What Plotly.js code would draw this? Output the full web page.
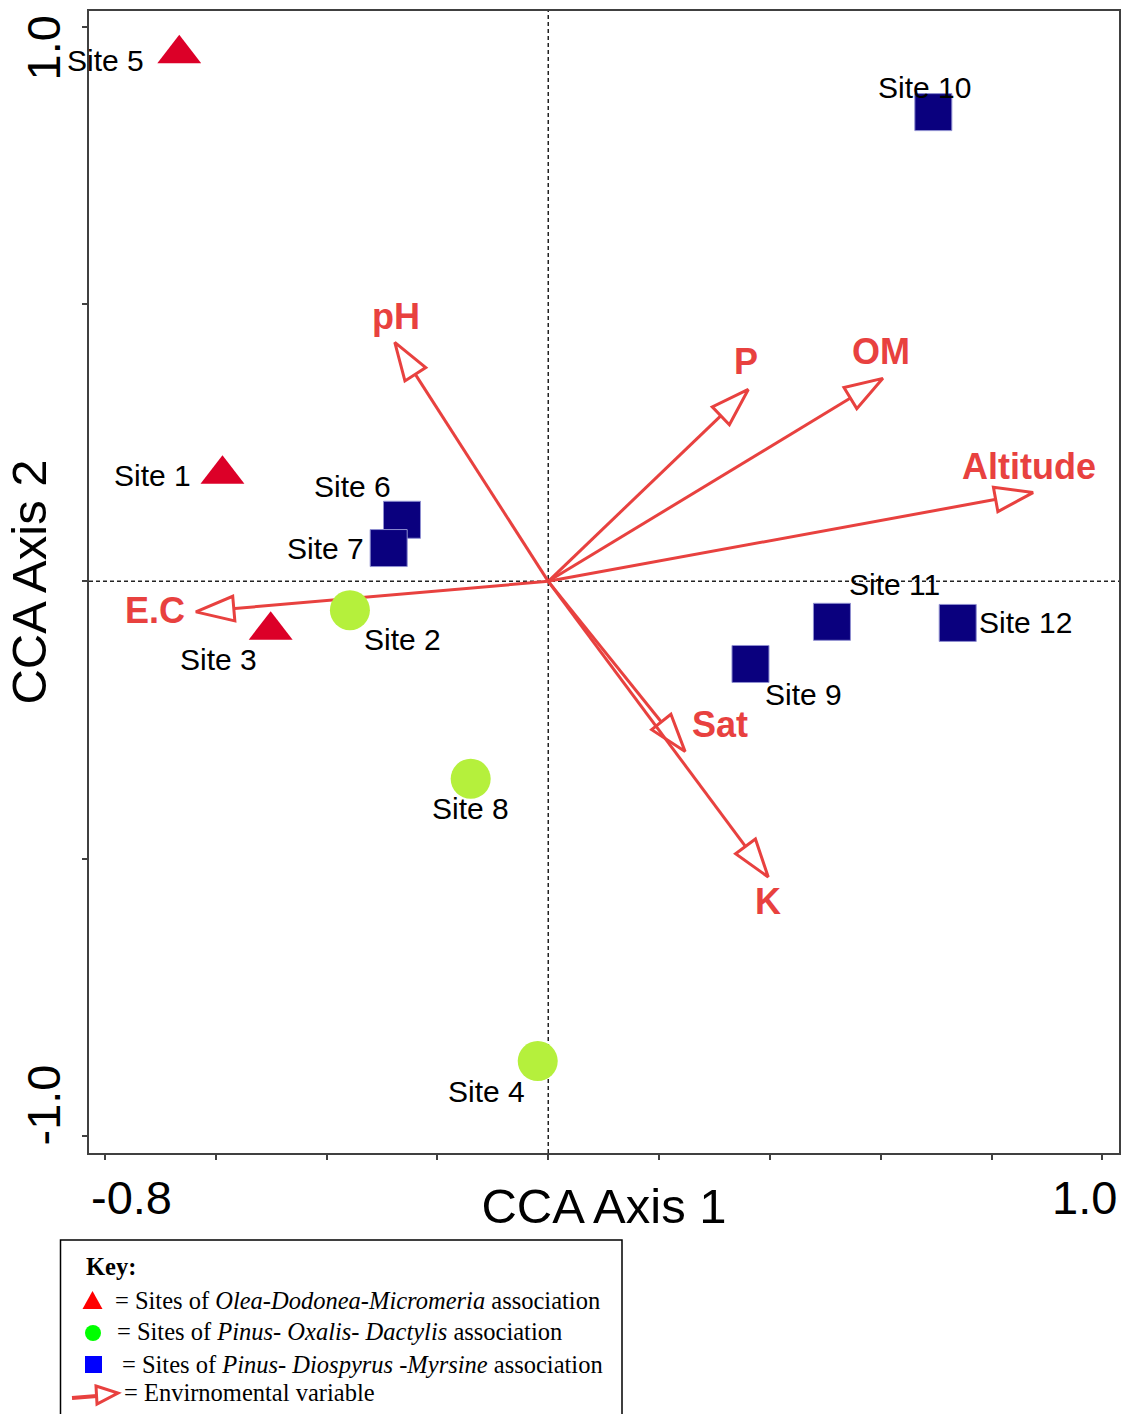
<!DOCTYPE html>
<html><head><meta charset="utf-8">
<script src="https://cdn.plot.ly/plotly-3.0.1.min.js"></script>
<style>html,body{margin:0;padding:0;background:#fff}</style>
</head><body>
<div id="chart" style="width:1126px;height:1414px"></div>
<script>
// ---------- data ----------
const siteNames = ["Site 1","Site 2","Site 3","Site 4","Site 5","Site 6","Site 7","Site 8","Site 9","Site 10","Site 11","Site 12"];
const siteGroup = ["A","B","A","B","A","C","C","B","C","C","C","C"];
const siteAxis1 = [-0.588,-0.358,-0.501,-0.019,-0.666,-0.264,-0.288,-0.140,0.365,0.695,0.512,0.739];
const siteAxis2 = [0.193,-0.052,-0.088,-0.865,0.951,0.111,0.060,-0.356,-0.149,0.846,-0.073,-0.075];

const envNames = ["pH","P","OM","Altitude","E.C","Sat","K"];
const envAxis1 = [-0.277,0.361,0.604,0.875,-0.636,0.247,0.397];
const envAxis2 = [0.431,0.346,0.366,0.160,-0.055,-0.307,-0.533];

const xTickLabels = ["-0.8","1.0"];
const yTickLabels = ["1.0","-1.0"];

const keyTitle = "<b>Key:</b>";
const keyLines = [
  "= Sites of <i>Olea-Dodonea-Micromeria</i> association",
  "= Sites of <i>Pinus- Oxalis- Dactylis</i> association",
  "= Sites of <i>Pinus- Diospyrus -Myrsine</i> association",
  "= Envirnomental variable"
];

// ---------- styles / layout helpers ----------
const RED = "#E8413F";
const SANS = "Liberation Sans, Arial, sans-serif";
const SERIF = "Liberation Serif, Times New Roman, serif";
const groupStyle = {
  A: {symbol:"triangle-up", color:"#DC0028", size:38, line:{width:0}},
  B: {symbol:"circle", color:"#B5F03C", size:40, line:{width:0}},
  C: {symbol:"square", color:"#0A007E", size:37, line:{width:1, color:"#8f8fd0"}}
};
// label offsets in px (dx right, dy down)
const siteLabelShift = [[-70,1.5],[53,29.7],[-52,29.3],[-51,30.8],[-74,6.9],[-49,-33.7],[-63,0],[0,29.6],[53,30.3],[-9,-24.7],[63,-37],[68,0]];
const envLabelShift = [[1.7,-25.6],[-2.7,-27.6],[-2,-26.6],[-4.5,-26],[-41.3,-0.9],[35,-26.7],[0,25]];

const M = {l:89, r:7, t:11, b:261};
const W = 1126, H = 1414;
const PW = W - M.l - M.r, PH = H - M.t - M.b;
const px = x => (x - M.l) / PW;
const py = y => (H - M.b - y) / PH;

// ---------- traces ----------
const traces = [];
envNames.forEach((n, i) => {
  traces.push({
    x:[0, envAxis1[i]], y:[0, envAxis2[i]],
    mode:"lines+markers", type:"scatter",
    line:{color:RED, width:3},
    marker:{symbol:"arrow", size:[0,40], angleref:"previous", color:"white",
            opacity:[0,1], line:{color:RED, width:3}},
    hoverinfo:"skip", showlegend:false
  });
});
["A","B","C"].forEach(g => {
  const xs = [], ys = [], ts = [];
  siteGroup.forEach((sg, i) => { if (sg === g) { xs.push(siteAxis1[i]); ys.push(siteAxis2[i]); ts.push(siteNames[i]); } });
  const s = groupStyle[g];
  traces.push({x:xs, y:ys, text:ts, mode:"markers", type:"scatter",
    marker:{symbol:s.symbol, color:s.color, size:s.size, line:s.line},
    hoverinfo:"text", showlegend:false});
});

// ---------- annotations ----------
const ann = [];
siteNames.forEach((n, i) => {
  ann.push({x:siteAxis1[i], y:siteAxis2[i], xref:"x", yref:"y", text:n, showarrow:false,
    xshift:siteLabelShift[i][0], yshift:-siteLabelShift[i][1],
    font:{family:SANS, size:30, color:"#000"}});
});
envNames.forEach((n, i) => {
  ann.push({x:envAxis1[i], y:envAxis2[i], xref:"x", yref:"y", text:"<b>"+n+"</b>", showarrow:false,
    xshift:envLabelShift[i][0], yshift:-envLabelShift[i][1],
    font:{family:SANS, size:36, color:RED}});
});
// tick labels at axis ends
const tickFont = {family:SANS, size:47, color:"#000"};
ann.push({xref:"paper", yref:"paper", x:px(89), y:py(1197), xanchor:"left", yanchor:"middle", text:xTickLabels[0], showarrow:false, font:tickFont});
ann.push({xref:"paper", yref:"paper", x:px(1119), y:py(1197), xanchor:"right", yanchor:"middle", text:xTickLabels[1], showarrow:false, font:tickFont});
ann.push({xref:"paper", yref:"paper", x:px(43), y:py(14), xanchor:"center", yanchor:"top", textangle:-90, text:yTickLabels[0], showarrow:false, font:tickFont});
ann.push({xref:"paper", yref:"paper", x:px(43), y:py(1148), xanchor:"center", yanchor:"bottom", textangle:-90, text:yTickLabels[1], showarrow:false, font:tickFont});
// key
const keyFont = {family:SERIF, size:24.5, color:"#000"};
ann.push({xref:"paper", yref:"paper", x:px(84), y:py(1266), xanchor:"left", yanchor:"middle", text:keyTitle, showarrow:false, font:keyFont});
const keyX = [113, 115, 120, 122];
const keyY = [1300, 1331, 1364, 1392];
keyLines.forEach((t, i) => {
  ann.push({xref:"paper", yref:"paper", x:px(keyX[i]), y:py(keyY[i]), xanchor:"left", yanchor:"middle", text:t, showarrow:false, font:keyFont});
});

// ---------- shapes ----------
const shapes = [
  {type:"line", xref:"x", yref:"paper", x0:0, x1:0, y0:0, y1:1, layer:"below", line:{color:"#222", width:1.5, dash:"4px,3px"}},
  {type:"line", xref:"paper", yref:"y", x0:0, x1:1, y0:0, y1:0, layer:"below", line:{color:"#222", width:1.5, dash:"4px,3px"}},
  // key box
  {type:"rect", xref:"paper", yref:"paper", x0:px(60.5), x1:px(622), y0:py(1240), y1:py(1420), line:{color:"#000", width:1.5}, fillcolor:"rgba(0,0,0,0)"},
  // key icons
  {type:"path", xref:"paper", yref:"paper", path:`M${px(82.5)},${py(1309)} L${px(102.5)},${py(1309)} L${px(92.5)},${py(1291)} Z`, line:{width:0}, fillcolor:"#FF0000"},
  {type:"circle", xref:"paper", yref:"paper", x0:px(85), x1:px(101), y0:py(1341), y1:py(1325), line:{width:0}, fillcolor:"#00FF00"},
  {type:"rect", xref:"paper", yref:"paper", x0:px(85), x1:px(102), y0:py(1373), y1:py(1356), line:{width:0}, fillcolor:"#0000FF"},
  {type:"line", xref:"paper", yref:"paper", x0:px(72), x1:px(97), y0:py(1398), y1:py(1396), line:{color:RED, width:4}},
  {type:"path", xref:"paper", yref:"paper", path:`M${px(96)},${py(1386)} L${px(118)},${py(1393)} L${px(97)},${py(1404)} Z`, line:{color:RED, width:3}, fillcolor:"white"}
];

const axisCommon = {showgrid:false, zeroline:false, showline:true, linecolor:"#404040", linewidth:2, mirror:true,
  ticks:"outside", ticklen:5, tickwidth:2, tickcolor:"#404040", showticklabels:false, fixedrange:true};

const layout = {
  width:W, height:H, margin:M, paper_bgcolor:"white", plot_bgcolor:"white", showlegend:false,
  xaxis:Object.assign({}, axisCommon, {range:[-0.8289,1.0301],
    tickvals:[-0.8,-0.6,-0.4,-0.2,0,0.2,0.4,0.6,0.8,1.0],
    title:{text:"CCA Axis 1", font:{family:SANS, size:49, color:"#000"}, standoff:30}}),
  yaxis:Object.assign({}, axisCommon, {range:[-1.0307,1.0283],
    tickvals:[-1,-0.5,0,0.5,1],
    title:{text:"CCA Axis 2", font:{family:SANS, size:49, color:"#000"}, standoff:20}}),
  shapes:shapes, annotations:ann
};

Plotly.newPlot("chart", traces, layout, {displayModeBar:false, staticPlot:true});
</script>
</body></html>
